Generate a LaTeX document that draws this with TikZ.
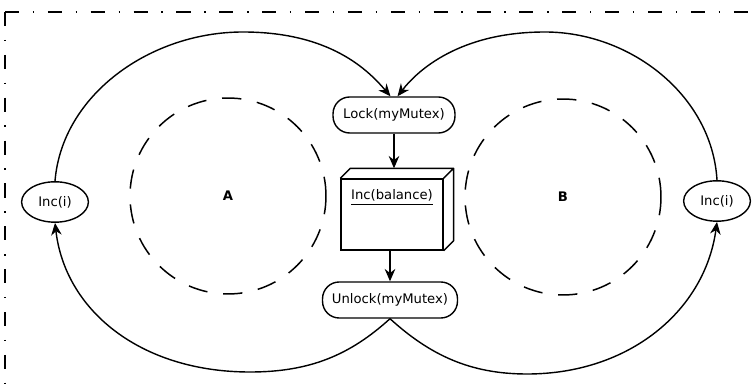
\documentclass[tikz,border=0pt]{standalone}
\usepackage{fontspec}
\setmainfont{DejaVu Sans}
\usetikzlibrary{arrows.meta,shapes.geometric,positioning}
\tikzset{
  every picture/.style={draw=black, text=black},
  txt/.style={font=\fontsize{7.5}{9}\selectfont},
  action/.style={txt, draw, line width=0.8pt, rounded corners=9.5pt,
    minimum height=20.5pt, inner sep=0pt},
  event/.style={txt, draw, ellipse, line width=0.8pt, inner sep=0pt,
    minimum width=38pt, minimum height=23pt},
  region/.style={circle, draw, dashed, line width=0.85pt,
    dash pattern=on 11pt off 9pt, minimum size=3.92cm, inner sep=0pt,
    font=\fontsize{7.5}{9}\selectfont\bfseries},
  flow/.style={line width=0.8pt, -{Stealth[length=7pt,width=6pt]}},
  border/.style={line width=0.8pt,
    dash pattern=on 8pt off 7.8pt on 0.8pt off 7.8pt},
}

\begin{document}
\begin{tikzpicture}[x=0.02cm, y=-0.02cm]
\useasboundingbox (0,0) rectangle (753,384);
% Frame round the whole diagram
\draw[border] (5,12) -- (760,12);
\draw[border] (5,12) -- (5,390);
% Regions A and B
\node[region] (regA) at (228,196) {A};
\node[region] (regB) at (563,197) {B};
% Central sequence
\node[action, minimum width=69.4pt] (lock) at (394,115) {Lock(myMutex)};
\node[draw, line width=0.8pt, minimum width=58pt, minimum height=40.4pt,
  inner sep=0pt] (bal) at (392,214.5) {};
\node[txt] (baltxt) at ([yshift=-10.8pt]bal.north) {\underline{Inc(balance)}};
\draw[line width=0.8pt, line join=round]
  (bal.north west) -- ++(10,-10) -- ([shift={(10,-10)}]bal.north east)
  -- ([shift={(10,-10)}]bal.south east) -- (bal.south east)
  (bal.north east) -- ++(10,-10);
\coordinate (baltop) at ([shift={(2,-10)}]bal.north);
\node[action, minimum width=76.8pt] (unlock) at (390,300) {Unlock(myMutex)};
% Increments on both sides
\node[event] (incL) at (55,202) {Inc(i)};
\node[event] (incR) at (717,201) {Inc(i)};
% Straight arrows
\draw[flow] (lock.south) -- (lock.south |- baltop);
\draw[flow] (unlock.north |- bal.south) -- (unlock.north);
% Loops
\draw[flow] (incL.north) .. controls (62,95) and (150,32) .. (243,32)
  .. controls (330,32) and (368,70) .. ([xshift=-2pt]lock.north);
\draw[flow] (incR.north) .. controls (712,95) and (630,32) .. (545,32)
  .. controls (460,32) and (418,70) .. ([xshift=2pt]lock.north);
\draw[flow] (unlock.south) .. controls (350,355) and (310,372) .. (250,372)
  .. controls (140,372) and (65,310) .. (incL.south);
\draw[flow] (unlock.south) .. controls (430,355) and (470,374) .. (527,374)
  .. controls (630,374) and (705,310) .. (incR.south);
\end{tikzpicture}
\end{document}
